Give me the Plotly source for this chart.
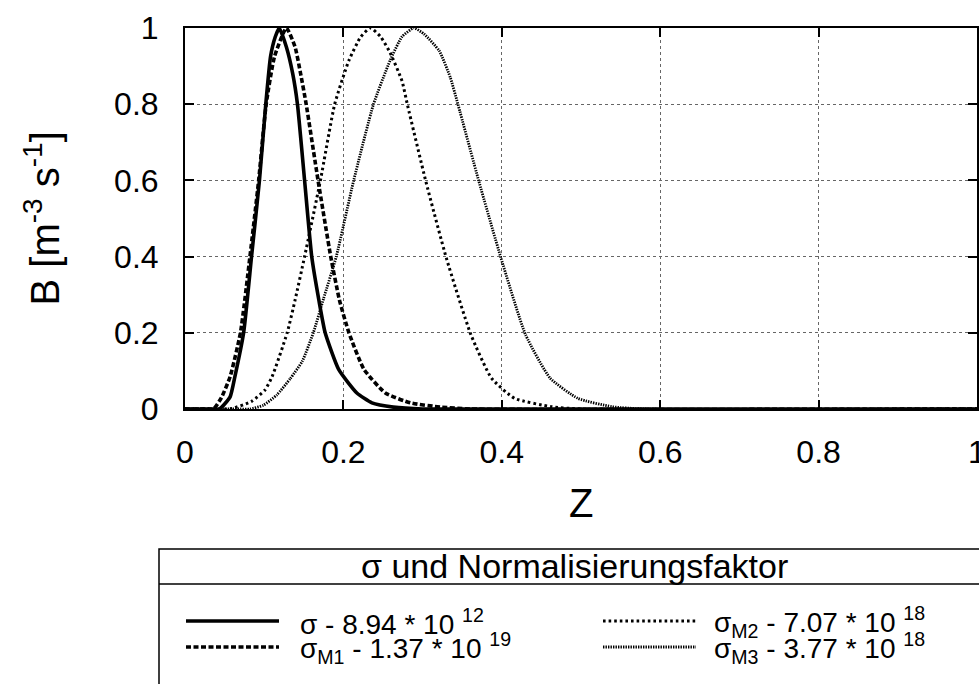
import plotly.graph_objects as go

# ---- data (Z, B) ----
z_sigma = [0.0, 0.030, 0.0435, 0.057, 0.063, 0.074, 0.084, 0.094, 0.102, 0.108, 0.114, 0.119,
           0.128, 0.136, 0.142, 0.151, 0.160, 0.169, 0.177, 0.194, 0.217, 0.236, 0.263, 0.30, 1.0]
b_sigma = [0.0, 0.0, 0.0, 0.032, 0.085, 0.20, 0.40, 0.60, 0.80, 0.925, 0.977, 1.0,
           0.95, 0.88, 0.80, 0.60, 0.40, 0.286, 0.20, 0.104, 0.042, 0.016, 0.005, 0.0, 0.0]

z_m1 = [0.0, 0.025, 0.036, 0.046, 0.057, 0.070, 0.082, 0.093, 0.1025, 0.113, 0.128,
        0.139, 0.146, 0.153, 0.168, 0.184, 0.195, 0.207, 0.226, 0.253, 0.285, 0.323, 0.36, 1.0]
b_m1 = [0.0, 0.0, 0.0, 0.03, 0.085, 0.20, 0.40, 0.60, 0.80, 0.925, 1.0,
        0.95, 0.88, 0.80, 0.60, 0.40, 0.286, 0.20, 0.104, 0.042, 0.016, 0.005, 0.0, 0.0]

z_m2 = [0.0, 0.045, 0.057, 0.084, 0.101, 0.110, 0.129, 0.139, 0.151, 0.171, 0.189, 0.207, 0.222, 0.234,
        0.247, 0.259, 0.274, 0.281, 0.304, 0.330, 0.361, 0.387, 0.416, 0.463, 0.50, 1.0]
b_m2 = [0.0, 0.0, 0.0, 0.02, 0.05, 0.085, 0.20, 0.286, 0.40, 0.60, 0.80, 0.915, 0.977, 1.0,
        0.977, 0.935, 0.861, 0.797, 0.598, 0.396, 0.195, 0.081, 0.028, 0.006, 0.0, 0.0]

z_m3 = [0.0, 0.07, 0.082, 0.099, 0.116, 0.133, 0.148, 0.162, 0.175, 0.191, 0.213, 0.238, 0.259, 0.274, 0.289,
        0.302, 0.321, 0.335, 0.345, 0.371, 0.399, 0.430, 0.461, 0.496, 0.539, 0.58, 1.0]
b_m3 = [0.0, 0.0, 0.0, 0.01, 0.037, 0.08, 0.125, 0.20, 0.29, 0.40, 0.60, 0.80, 0.915, 0.977, 1.0,
        0.984, 0.94, 0.87, 0.797, 0.598, 0.396, 0.195, 0.081, 0.028, 0.006, 0.0, 0.0]

x_ticks = [0, 0.2, 0.4, 0.6, 0.8, 1]
x_labels = ["0", "0.2", "0.4", "0.6", "0.8", "1"]
y_ticks = [0, 0.2, 0.4, 0.6, 0.8, 1]
y_labels = ["0", "0.2", "0.4", "0.6", "0.8", "1"]

legend_title = "σ und Normalisierungsfaktor"
legend_labels = ["σ - 8.94 * 10 <sup>12</sup>",
                 "σ<sub>M1</sub> - 1.37 * 10 <sup>19</sup>",
                 "σ<sub>M2</sub> - 7.07 * 10 <sup>18</sup>",
                 "σ<sub>M3</sub> - 3.77 * 10 <sup>18</sup>"]

# ---- styles ----
FONT = "Liberation Sans, Arial, sans-serif"
styles = [dict(width=3.6, dash="solid"),
          dict(width=3.6, dash="5px,2.5px"),
          dict(width=3.0, dash="2.6px,3px"),
          dict(width=2.8, dash="1.4px,1.1px")]

W, H = 979, 684
L, R, T, B = 185, 2, 28, 275
PW, PH = W - L - R, H - T - B


def px(x):
    return (x - L) / PW


def py(y):
    return (H - B - y) / PH


fig = go.Figure()
series = [(z_sigma, b_sigma), (z_m1, b_m1), (z_m2, b_m2), (z_m3, b_m3)]
for (zz, bb), st in zip(series, styles):
    fig.add_trace(go.Scatter(x=zz, y=bb, mode="lines",
                             line=dict(color="black", width=st["width"], dash=st["dash"],
                                       shape="spline", smoothing=0.5),
                             showlegend=False, hoverinfo="skip"))

shapes = []
# legend box and header separator
shapes.append(dict(type="rect", xref="paper", yref="paper",
                   x0=px(159), x1=px(992), y0=py(549), y1=py(700),
                   line=dict(color="black", width=1.5), fillcolor="rgba(0,0,0,0)"))
shapes.append(dict(type="line", xref="paper", yref="paper",
                   x0=px(159), x1=px(992), y0=py(584), y1=py(584),
                   line=dict(color="black", width=1.5)))

annotations = []
annotations.append(dict(xref="paper", yref="paper", x=px(574), y=py(566), text=legend_title,
                        showarrow=False, xanchor="center", yanchor="middle",
                        font=dict(family=FONT, size=34, color="black")))

# (sample x0, sample x1, text x, row y)
pos = [(186, 279, 298, 621), (186, 279, 298, 647),
       (603, 696, 712, 621), (603, 696, 712, 647)]
for (sx0, sx1, tx, yy), st, lab in zip(pos, styles, legend_labels):
    shapes.append(dict(type="line", xref="paper", yref="paper",
                       x0=px(sx0), x1=px(sx1), y0=py(yy), y1=py(yy),
                       line=dict(color="black", width=st["width"], dash=st["dash"])))
    annotations.append(dict(xref="paper", yref="paper", x=px(tx), y=py(yy + 1), text=lab,
                            showarrow=False, xanchor="left", yanchor="middle",
                            font=dict(family=FONT, size=28, color="black")))

# axis titles
annotations.append(dict(xref="paper", yref="paper", x=px(42), y=0.5,
                        text="B [m<sup>-3</sup> s<sup>-1</sup>]",
                        showarrow=False, textangle=-90, xanchor="center", yanchor="middle",
                        font=dict(family=FONT, size=40, color="black")))
annotations.append(dict(xref="paper", yref="paper", x=0.5, y=py(503), text="Z",
                        showarrow=False, xanchor="center", yanchor="middle",
                        font=dict(family=FONT, size=40, color="black")))

axis_common = dict(range=[0, 1], showline=True, linecolor="black", linewidth=2, mirror="ticks",
                   ticks="inside", ticklen=9, tickwidth=1.5, tickcolor="black",
                   showgrid=True, gridcolor="#666666", gridwidth=1, griddash="dot",
                   zeroline=False, ticklabeloverflow="allow",
                   tickfont=dict(family=FONT, size=32, color="black"))

fig.update_layout(
    width=W, height=H, margin=dict(l=L, r=R, t=T, b=B, autoexpand=False),
    paper_bgcolor="white", plot_bgcolor="white",
    xaxis=dict(tickvals=x_ticks, ticktext=x_labels, ticklabelstandoff=14, **axis_common),
    yaxis=dict(tickvals=y_ticks, ticktext=y_labels, ticklabelstandoff=18, **axis_common),
    shapes=shapes, annotations=annotations, showlegend=False,
)

fig.write_html("out.html")
